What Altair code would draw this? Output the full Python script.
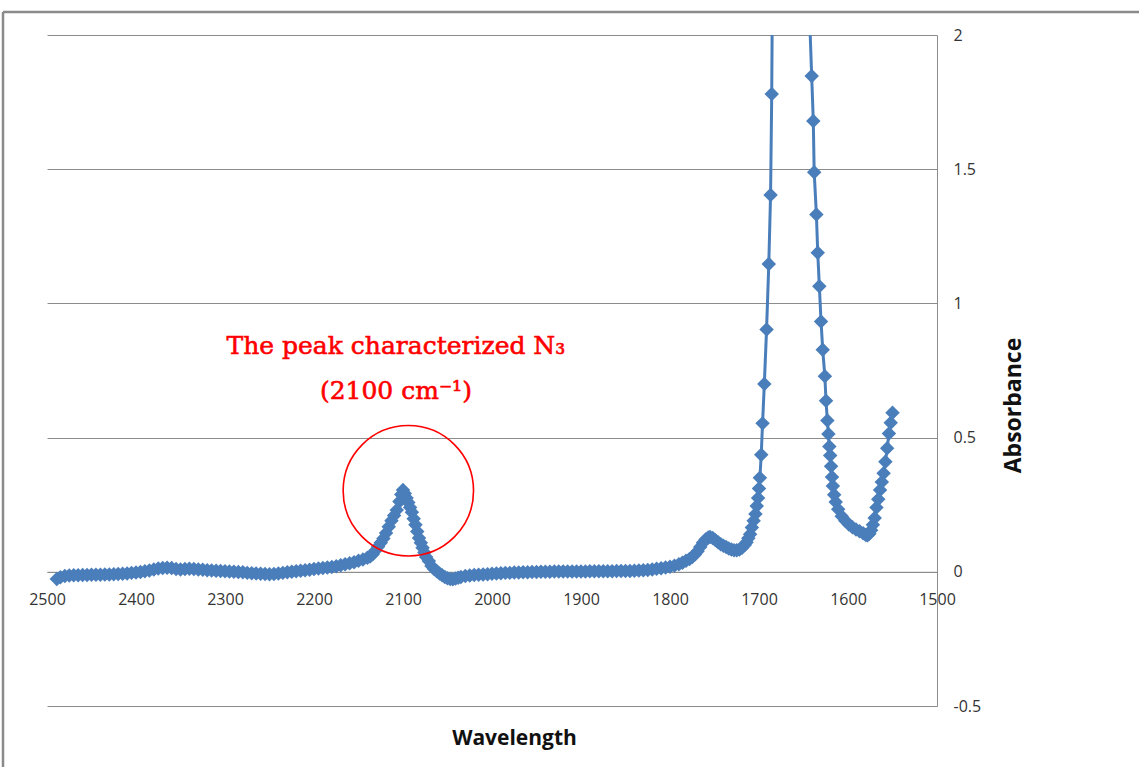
import altair as alt
import pandas as pd

# ---- spectrum data (wavenumber, absorbance) ----
wavenumber = [
    2489, 2485, 2480, 2475, 2470, 2465, 2460, 2455, 2450, 2445, 2440, 2435, 2430, 2425, 2420,
    2415, 2410, 2405, 2400, 2395, 2390, 2385, 2380, 2375, 2370, 2365, 2360, 2355, 2350, 2345,
    2340, 2335, 2330, 2325, 2320, 2315, 2310, 2305, 2300, 2295, 2290, 2285, 2280, 2275, 2270,
    2265, 2260, 2255, 2250, 2245, 2240, 2235, 2230, 2225, 2220, 2215, 2210, 2205, 2200, 2195,
    2190, 2185, 2180, 2175, 2170, 2165, 2160, 2155, 2150, 2145, 2140, 2137, 2134, 2131, 2128,
    2125, 2122, 2119, 2116, 2113, 2110, 2107, 2104, 2102, 2100, 2098, 2096, 2094, 2092, 2090,
    2088, 2086, 2084, 2082, 2080, 2078, 2076, 2074, 2071, 2068, 2065, 2062, 2059, 2056, 2053,
    2050, 2047, 2044, 2041, 2038, 2035, 2030, 2025, 2020, 2015, 2010, 2005, 2000, 1995, 1990,
    1985, 1980, 1975, 1970, 1965, 1960, 1955, 1950, 1945, 1940, 1935, 1930, 1925, 1920, 1915,
    1910, 1905, 1900, 1895, 1890, 1885, 1880, 1875, 1870, 1865, 1860, 1855, 1850, 1845, 1840,
    1835, 1830, 1825, 1820, 1815, 1810, 1805, 1800, 1795, 1790, 1786, 1782, 1778, 1775, 1772,
    1769, 1766, 1763, 1760, 1757, 1755, 1752, 1749, 1746, 1743, 1740, 1737, 1734, 1731, 1728,
    1725, 1722, 1719, 1716, 1714, 1712, 1710, 1708, 1706, 1704, 1702.5, 1701, 1700, 1699, 1697.5,
    1696, 1694, 1691.5, 1689, 1687, 1685.7, 1684.5, 1683, 1680, 1672, 1662, 1652, 1646, 1643,
    1640.8, 1639, 1638, 1635.5, 1634, 1632.2, 1630.3, 1628.4, 1626, 1624.7, 1623.2, 1622, 1621,
    1620, 1619, 1618, 1617, 1615.5, 1613.8, 1611, 1607, 1603, 1599, 1595, 1591, 1587, 1583,
    1580, 1578, 1576, 1574, 1572, 1570, 1568, 1566, 1564, 1562, 1560, 1558, 1556, 1554, 1552,
    1550,
]
absorbance = [
    -0.027, -0.020, -0.016, -0.014, -0.013, -0.013, -0.012, -0.012, -0.011, -0.011, -0.011, -0.010, -0.010, -0.009, -0.008,
    -0.007, -0.006, -0.004, -0.003, -0.001, 0.002, 0.005, 0.009, 0.012, 0.014, 0.015, 0.014, 0.010, 0.009, 0.010,
    0.011, 0.010, 0.009, 0.008, 0.006, 0.005, 0.004, 0.003, 0.002, 0.001, 0.000, -0.001, -0.002, -0.004, -0.005,
    -0.006, -0.007, -0.008, -0.009, -0.008, -0.006, -0.004, -0.002, 0.000, 0.002, 0.004, 0.006, 0.008, 0.010, 0.012,
    0.014, 0.016, 0.018, 0.021, 0.024, 0.028, 0.032, 0.036, 0.041, 0.046, 0.052, 0.057, 0.065, 0.079, 0.093,
    0.108, 0.124, 0.145, 0.168, 0.190, 0.210, 0.230, 0.262, 0.288, 0.305, 0.292, 0.275, 0.258, 0.240, 0.222,
    0.198, 0.175, 0.150, 0.126, 0.108, 0.090, 0.072, 0.055, 0.040, 0.022, 0.010, 0.002, -0.006, -0.013, -0.019,
    -0.024, -0.027, -0.028, -0.025, -0.022, -0.019, -0.016, -0.014, -0.012, -0.011, -0.010, -0.009, -0.007, -0.006, -0.005,
    -0.004, -0.004, -0.003, -0.003, -0.002, -0.002, -0.001, -0.001, 0.000, 0.000, 0.000, 0.001, 0.001, 0.001, 0.001,
    0.001, 0.001, 0.001, 0.001, 0.002, 0.002, 0.002, 0.002, 0.002, 0.002, 0.003, 0.003, 0.003, 0.003, 0.004,
    0.005, 0.006, 0.007, 0.009, 0.011, 0.013, 0.016, 0.019, 0.023, 0.028, 0.034, 0.041, 0.048, 0.055, 0.064,
    0.077, 0.092, 0.108, 0.120, 0.128, 0.130, 0.126, 0.118, 0.110, 0.103, 0.097, 0.092, 0.087, 0.083, 0.080,
    0.080, 0.083, 0.090, 0.100, 0.110, 0.125, 0.140, 0.165, 0.190, 0.215, 0.245, 0.275, 0.310, 0.350, 0.436,
    0.553, 0.700, 0.903, 1.147, 1.404, 1.780, 2.400, 2.900, 3.300, 3.500, 3.600, 3.400, 2.700, 2.050,
    1.847, 1.680, 1.489, 1.331, 1.189, 1.064, 0.933, 0.827, 0.729, 0.637, 0.564, 0.513, 0.467,
    0.433, 0.393, 0.353, 0.320, 0.287, 0.260, 0.233, 0.207, 0.190, 0.176, 0.166, 0.158, 0.151, 0.144,
    0.137, 0.136, 0.142, 0.155, 0.175, 0.200, 0.240, 0.270, 0.305, 0.335, 0.367, 0.410, 0.460, 0.515, 0.555,
    0.593,
]

x_ticks = [1500, 1600, 1700, 1800, 1900, 2000, 2100, 2200, 2300, 2400, 2500]
y_ticks = [-0.5, 0, 0.5, 1, 1.5, 2]

# annotation
note_lines = ["The peak characterized N\u2083", "(2100 cm\u207b\u00b9)"]
note_wn = [2108, 2108]
note_ab = [0.84, 0.675]
circle_wn = [2094]
circle_ab = [0.302]

BLUE = "#4a7ebb"
GRID = "#8c8c8c"
LABEL_FONT = "Open Sans"

df = pd.DataFrame({"wn": wavenumber, "ab": absorbance})
notes = pd.DataFrame({"wn": note_wn, "ab": note_ab, "text": note_lines})
circ = pd.DataFrame({"wn": circle_wn, "ab": circle_ab})

x_scale = alt.Scale(domain=[1500, 2500], reverse=True, nice=False, zero=False)
y_scale = alt.Scale(domain=[-0.5, 2], nice=False, zero=False)

x_axis = alt.Axis(
    values=x_ticks, labelExpr="'' + datum.value", ticks=False, grid=False,
    domainColor=GRID, domainWidth=1, offset=-134.2, labelPadding=20, labelFlush=False,
    labelFont=LABEL_FONT, labelFontSize=16, labelColor="#333333",
    title="Wavelength", titleFont=LABEL_FONT, titleFontSize=21, titleFontWeight="bold",
    titleColor="#111111", titleX=467, titleY=167, titleBaseline="middle", titleAlign="center",
)
y_axis = alt.Axis(
    orient="right", values=y_ticks, labelExpr="'' + datum.value", ticks=False,
    grid=True, gridColor=GRID, gridWidth=1, domainColor=GRID, domainWidth=1,
    labelPadding=16, labelFlush=False, labelFont=LABEL_FONT, labelFontSize=16, labelColor="#333333",
    title="Absorbance", titleFont=LABEL_FONT, titleFontSize=23, titleFontWeight="bold",
    titleColor="#111111", titleAngle=270, titleX=76, titleY=370,
    titleBaseline="middle", titleAlign="center",
)

base = alt.Chart(df)
line = base.mark_line(color=BLUE, strokeWidth=3, clip=True).encode(
    x=alt.X("wn:Q", scale=x_scale, axis=x_axis),
    y=alt.Y("ab:Q", scale=y_scale, axis=y_axis),
)
pts = base.mark_point(shape="diamond", filled=True, size=210, color=BLUE, opacity=1, clip=True).encode(
    x="wn:Q", y="ab:Q"
)

text = alt.Chart(notes).mark_text(
    font="DejaVu Serif", fontSize=25, color="#ff0000", stroke="#ff0000", strokeWidth=0.6,
    align="center", baseline="middle"
).encode(x="wn:Q", y="ab:Q", text="text:N")

ring = alt.Chart(circ).mark_point(
    shape="circle", filled=False, size=17000, stroke="#ff0000", strokeWidth=1.6, opacity=1
).encode(x="wn:Q", y="ab:Q")

frame_df = pd.DataFrame({"k": [0]})
frame_top = alt.Chart(frame_df).mark_rule(color="#8a8a8a", strokeWidth=2.5).encode(
    x=alt.value(-44), x2=alt.value(1092), y=alt.value(-23)
)
frame_left = alt.Chart(frame_df).mark_rule(color="#8a8a8a", strokeWidth=2.5).encode(
    x=alt.value(-44), y=alt.value(-23), y2=alt.value(732)
)

chart = alt.layer(line, pts, ring, text, frame_top, frame_left).properties(
    width=890, height=671,
    autosize=alt.AutoSizeParams(type="none"),
    padding={"left": 47, "top": 35, "right": 202, "bottom": 61},
    background="white",
).configure_view(stroke=None)

chart.save("out.html", embed_options={"renderer": "svg", "actions": False})
